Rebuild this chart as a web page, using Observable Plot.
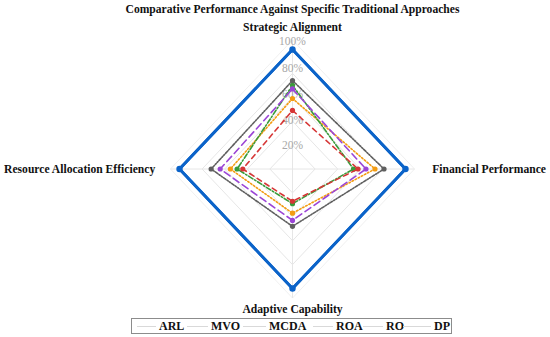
<!DOCTYPE html>
<html>
<head>
<meta charset="utf-8">
<script src="https://cdn.jsdelivr.net/npm/d3@7"></script>
<script src="https://cdn.jsdelivr.net/npm/@observablehq/plot@0.6"></script>
<style>
  html, body { margin: 0; padding: 0; background: #fff; }
  #wrap { position: relative; width: 550px; height: 337px; font-family: "Liberation Serif", "DejaVu Serif", serif; }
  #legend { position: absolute; left: 131px; top: 318px; width: 319px; height: 14px; border: 1px solid #8c8c8c;
    font-weight: bold; font-size: 12px; color: #111; }
  #legend .sw { position: absolute; top: 7px; height: 1px; background: #d9d9d9; }
  #legend .tx { position: absolute; top: -1px; line-height: 16px; }
</style>
</head>
<body>
<div id="wrap"></div>
<script>
// ---- data ----
const title = "Comparative Performance Against Specific Traditional Approaches";
const axesNames = ["Strategic Alignment", "Financial Performance", "Adaptive Capability", "Resource Allocation Efficiency"];
const methods = ["ARL", "MVO", "MCDA", "ROA", "RO", "DP"];
// values in %, order: Strategic, Financial, Adaptive, Resource
const ARL  = [100, 100, 100, 100];
const MVO  = [59, 73, 37, 55];
const MCDA = [70, 54, 29, 49];
const ROA  = [49, 58, 27, 44];
const RO   = [67, 65, 43, 64];
const DP   = [74, 81, 48, 72];
const tickLevels = [20, 40, 60, 80, 100];
const tickLabels = ["20%", "40%", "60%", "80%", "100%"];

const seriesValues = [ARL, MVO, MCDA, ROA, RO, DP];
const colors = ["#0b63c9", "#f39c12", "#3a9b3a", "#d63636", "#9b45d6", "#5f5f5f"];
const dashes = [null, "1.5,2", "5,2,1.5,2", "5,4", "7,4", "3,1.5,1.2,1.5,1.2,1.5"];
const widths = [2.8, 1.6, 1.6, 1.6, 1.6, 1.6];
const rad = [3.2, 2.6, 2.6, 2.6, 2.6, 2.6];

const ang = axesNames.map((_, i) => i * Math.PI / 2); // top, right, bottom, left (clockwise)
const px = (r, i) => r * Math.sin(ang[i]);
const py = (r, i) => r * Math.cos(ang[i]);

function ring(r) {
  return [0, 1, 2, 3, 0].map(i => ({x: px(r, i), y: py(r, i)}));
}

const marks = [];
for (const lv of tickLevels) marks.push(Plot.line(ring(lv / 100), {x: "x", y: "y", stroke: "#e6e6e6", strokeWidth: 1}));
marks.push(Plot.line(ring(1.08), {x: "x", y: "y", stroke: "#f0f0f0", strokeWidth: 1}));
const spokes = axesNames.map((_, i) => ({x1: 0, y1: 0, x2: px(1.08, i), y2: py(1.08, i)}));
marks.push(Plot.link(spokes, {x1: "x1", y1: "y1", x2: "x2", y2: "y2", stroke: "#e6e6e6", strokeWidth: 1}));
marks.push(Plot.text(tickLevels.map((lv, k) => ({lv, label: tickLabels[k]})), {
  x: () => 0, y: d => (d.lv / 100) * (1 + 0.07 * (d.lv - 20) / 80), text: "label",
  fill: "#a8a8a8", fontSize: 11.5, fontFamily: "Liberation Serif"
}));

methods.forEach((m, s) => {
  const vals = seriesValues[s];
  const pts = [0, 1, 2, 3, 0].map(i => ({m, x: px(vals[i] / 100, i), y: py(vals[i] / 100, i)}));
  marks.push(Plot.line(pts, {x: "x", y: "y", stroke: colors[s], strokeWidth: widths[s], strokeDasharray: dashes[s], strokeLinejoin: "miter"}));
  marks.push(Plot.dot(pts.slice(0, 4), {x: "x", y: "y", r: rad[s], fill: colors[s], stroke: "none"}));
});
{
  const pts = [0, 1, 2, 3, 0].map(i => ({x: px(ARL[i] / 100, i), y: py(ARL[i] / 100, i)}));
  marks.push(Plot.line(pts, {x: "x", y: "y", stroke: colors[0], strokeWidth: widths[0]}));
}

const lab = [
  {t: axesNames[0], x: 0, y: 1.19, a: "middle"},
  {t: axesNames[1], x: 1.237, y: 0, a: "start"},
  {t: axesNames[2], x: 0, y: -1.175, a: "middle"},
  {t: axesNames[3], x: -1.215, y: 0, a: "end"}
];
for (const l of lab) marks.push(Plot.text([l], {x: "x", y: "y", text: "t", textAnchor: l.a, fontWeight: "bold", fontSize: 11.6, fill: "#111", fontFamily: "Liberation Serif"}));
marks.push(Plot.text([title], {x: () => 0, y: () => 1.34, text: d => d, fontWeight: "bold", fontSize: 11.6, fill: "#111", fontFamily: "Liberation Serif"}));

const chart = Plot.plot({
  width: 550, height: 337,
  marginTop: 0, marginBottom: 0, marginLeft: 0, marginRight: 0,
  x: {domain: [-1, 1], range: [179, 405], axis: null},
  y: {domain: [-1, 1], range: [288, 49], axis: null},
  style: {background: "#fff", fontFamily: "Liberation Serif"},
  marks
});
const wrap = document.getElementById("wrap");
wrap.appendChild(chart);

// legend (positions relative to legend box)
const legend = document.createElement("div");
legend.id = "legend";
const swX = [5, 55, 111, 181, 231, 271];
const swW = [19, 21, 23, 20, 20, 28];
const txX = [27, 79, 137, 204, 254, 302];
methods.forEach((m, i) => {
  const sw = document.createElement("span");
  sw.className = "sw"; sw.style.left = swX[i] + "px"; sw.style.width = swW[i] + "px";
  const tx = document.createElement("span");
  tx.className = "tx"; tx.style.left = txX[i] + "px";
  tx.textContent = m;
  legend.appendChild(sw); legend.appendChild(tx);
});
wrap.appendChild(legend);
</script>
</body>
</html>
